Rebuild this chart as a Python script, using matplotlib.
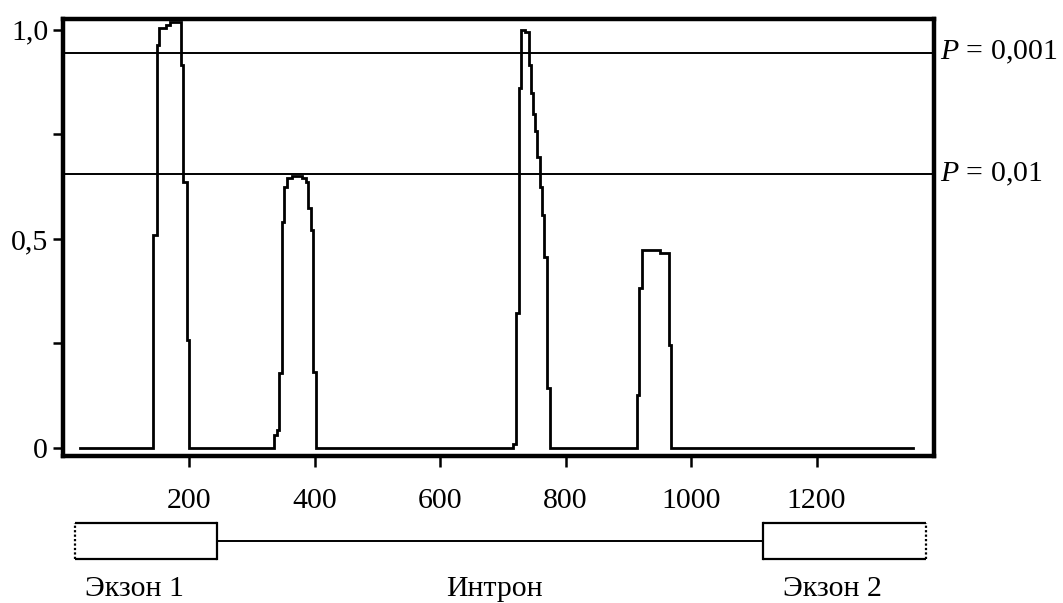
import matplotlib
matplotlib.use("Agg")
import matplotlib.pyplot as plt

plt.rcParams['font.family'] = ['Liberation Serif', 'DejaVu Serif']
plt.rcParams['mathtext.fontset'] = 'custom'
plt.rcParams['mathtext.rm'] = 'Liberation Serif'
plt.rcParams['mathtext.it'] = 'Liberation Serif:italic'

# ---- data: step profile (x position where a new level starts, level) ----
step_x = [26, 142, 148.5, 153, 163, 170, 187.5, 191, 196.3, 200.5,
          335.5, 339.8, 343.9, 347.7, 351.9, 356.7, 363.7, 379.6, 386.5, 390.1, 394.4, 398.1, 401.9,
          717, 721.5, 725.5, 729.5, 735, 741, 744.5, 748, 751.5, 755, 759, 762.5, 766, 770.5, 774.5,
          913.5, 917.6, 922.4, 950.6, 964.9, 968.1, 1354]
step_y = [0, 0.51, 0.964, 1.004, 1.012, 1.018, 0.916, 0.637, 0.258, 0,
          0.031, 0.043, 0.179, 0.541, 0.625, 0.645, 0.651, 0.645, 0.637, 0.573, 0.522, 0.183, 0,
          0.01, 0.322, 0.861, 1.0, 0.994, 0.916, 0.849, 0.80, 0.757, 0.697, 0.625, 0.557, 0.458, 0.143, 0,
          0.127, 0.382, 0.474, 0.467, 0.246, 0, 0]

thresholds = [0.945, 0.655]
threshold_labels = ['$P$ = 0,001', '$P$ = 0,01']

x_ticks = [200, 400, 600, 800, 1000, 1200]
x_tick_labels = ['200', '400', '600', '800', '1000', '1200']
y_ticks = [0, 0.25, 0.5, 0.75, 1.0]
y_tick_labels = ['0', '', '0,5', '', '1,0']

exon_starts = [18, 1115]
exon_ends = [245, 1375]
exon_labels = ['Экзон 1', 'Экзон 2']
exon_label_x = [113, 1226]
intron_label = 'Интрон'
intron_label_x = 686

XLIM = (0, 1387)

fig = plt.figure(figsize=(10.63, 6.03), dpi=100)
ax = fig.add_axes([0.0597, 0.2438, 0.8189, 0.7247])

ax.step(step_x, step_y, where='post', color='black', lw=2.0, solid_joinstyle='miter')
for t, lab in zip(thresholds, threshold_labels):
    ax.axhline(t, color='black', lw=1.4)
    ax.text(1.007, t, lab, transform=ax.get_yaxis_transform(), ha='left', va='center',
            fontsize=21.5)

ax.set_xlim(*XLIM)
ax.set_ylim(-0.019, 1.026)
ax.set_xticks(x_ticks)
ax.set_xticklabels(x_tick_labels, fontsize=21.5)
ax.set_yticks(y_ticks)
ax.set_yticklabels(y_tick_labels, fontsize=21.5)
ax.tick_params(axis='x', direction='out', length=8, width=1.8, pad=15)
ax.tick_params(axis='y', direction='out', length=7, width=1.8, pad=4)
for s in ax.spines.values():
    s.set_linewidth(3.2)

# ---- gene structure diagram ----
gax = fig.add_axes([0.0597, 0.0, 0.8189, 93 / 603])
gax.set_xlim(*XLIM)
gax.set_ylim(0, 1)
gax.axis('off')
box_bottom, box_top, line_y = 0.473, 0.860, 0.667
gax.plot([exon_ends[0], exon_starts[1]], [line_y, line_y], color='black', lw=1.4)
for i, (s, e) in enumerate(zip(exon_starts, exon_ends)):
    gax.plot([s, e], [box_top, box_top], color='black', lw=1.6, solid_capstyle='butt')
    gax.plot([s, e], [box_bottom, box_bottom], color='black', lw=1.6, solid_capstyle='butt')
    if i == 0:
        gax.plot([s, s], [box_bottom, box_top], color='black', lw=1.6, ls=(0, (1, 1)))
        gax.plot([e, e], [box_bottom, box_top], color='black', lw=1.6)
    else:
        gax.plot([s, s], [box_bottom, box_top], color='black', lw=1.6)
        gax.plot([e, e], [box_bottom, box_top], color='black', lw=1.6, ls=(0, (1, 1)))
for lab, lx in zip(exon_labels, exon_label_x):
    gax.text(lx, 0.015, lab, ha='center', va='bottom', fontsize=21.5)
gax.text(intron_label_x, 0.015, intron_label, ha='center', va='bottom', fontsize=21.5)

fig.savefig('out.png', dpi=100)
